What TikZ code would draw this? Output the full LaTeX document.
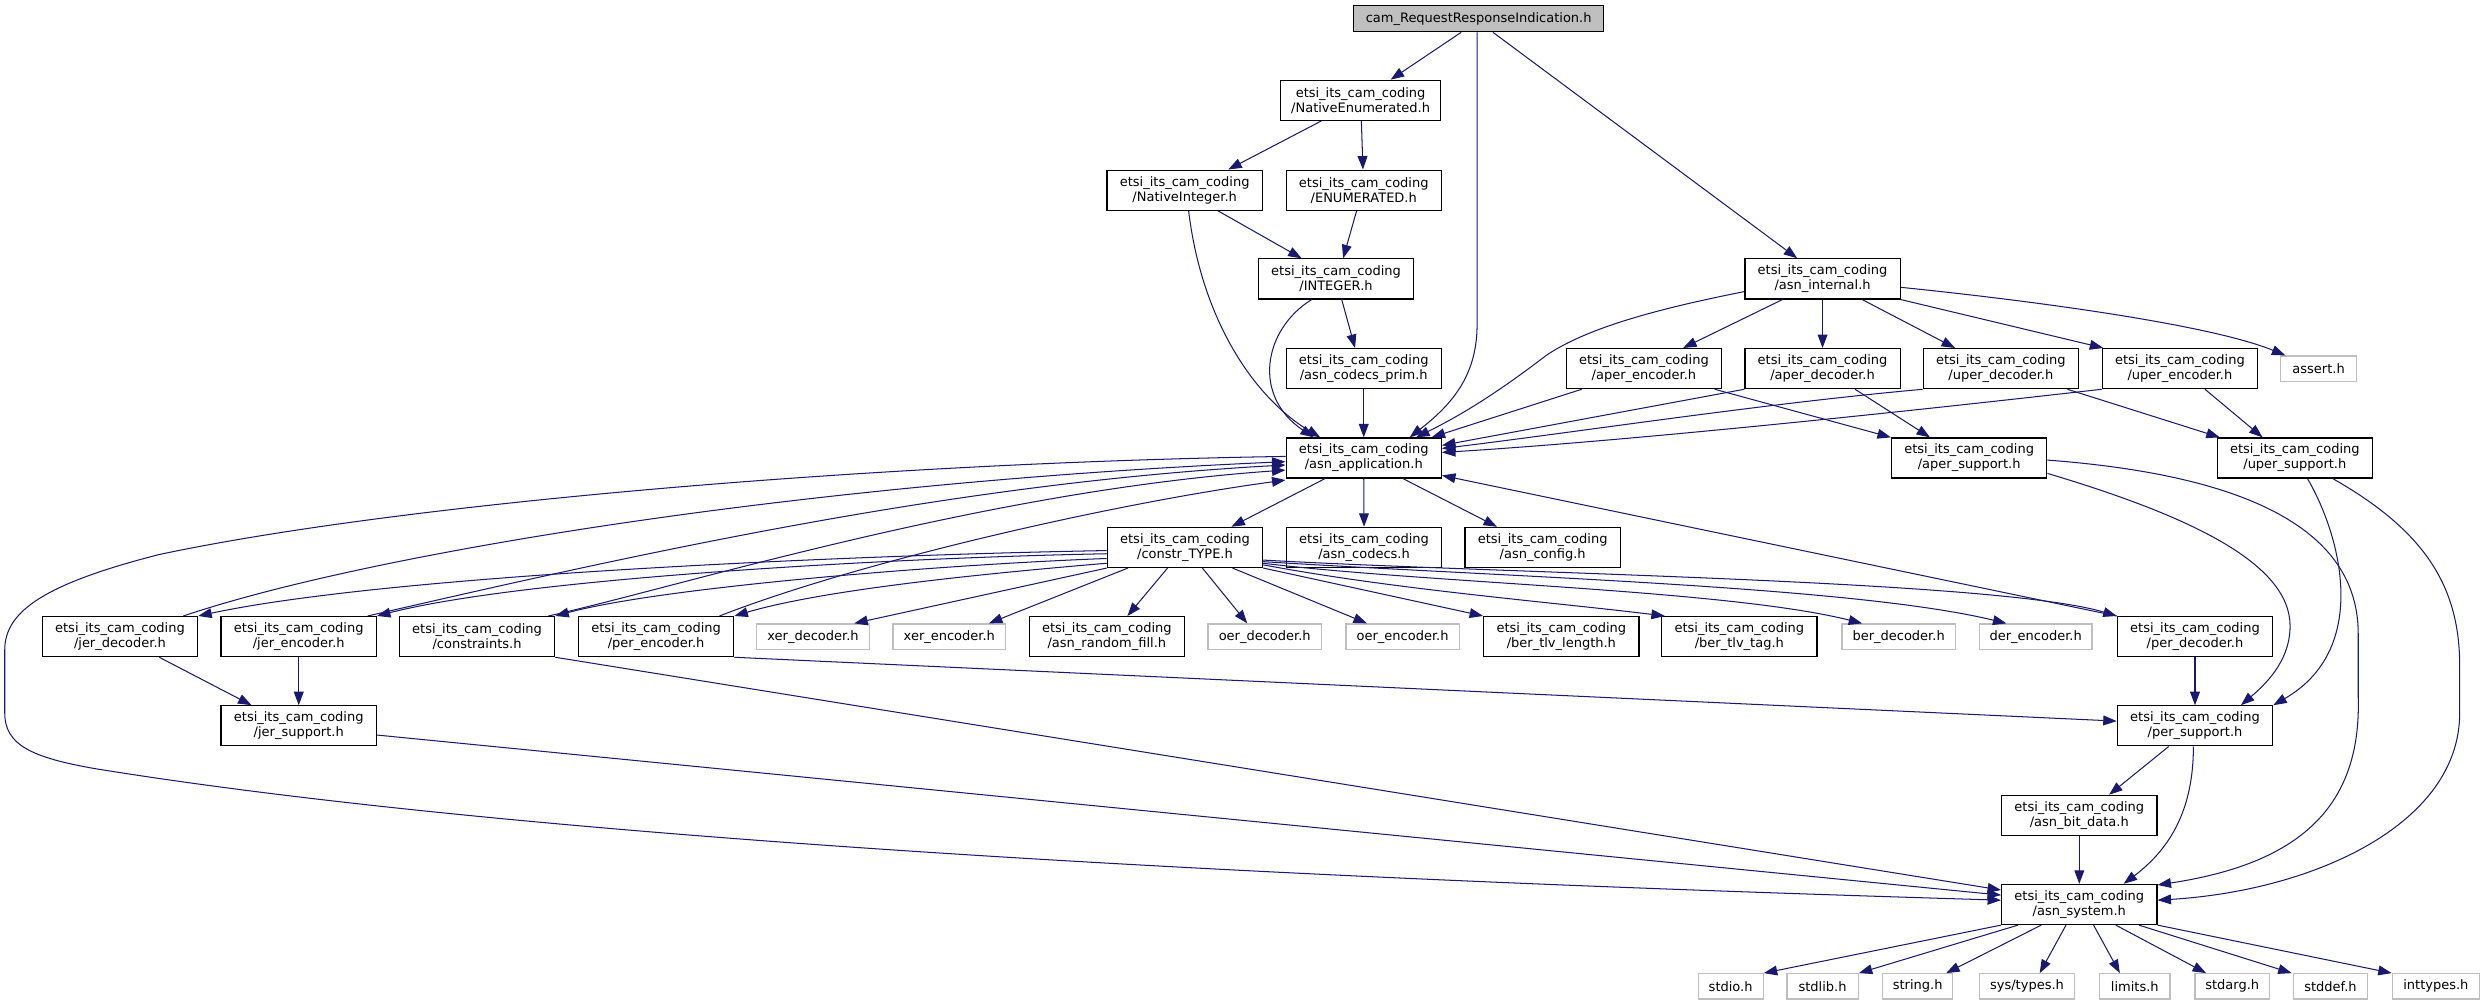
\documentclass[tikz,border=0pt]{standalone}
\usepackage{fontspec}
\setmainfont{DejaVu Sans}
\usetikzlibrary{arrows.meta}
\definecolor{edgec}{HTML}{191970}
\definecolor{gbord}{HTML}{BFBFBF}
\definecolor{topfill}{HTML}{BFBFBF}
\newcommand\nodefont{\fontsize{8.2}{9.46}\selectfont}
\begin{document}
\begin{tikzpicture}[x=1pt,y=-1pt,
 box/.style={draw=black,line width=0.75pt,fill=white,minimum width=98pt,minimum height=25.3pt,inner sep=0pt,align=center,font=\nodefont},
 gbox/.style={draw=gbord,line width=0.75pt,fill=white,minimum width=#1,minimum height=16pt,inner sep=0pt,font=\nodefont},
 e/.style={draw=edgec,line width=0.65pt,-{Triangle[length=8.5pt,width=6.2pt]}},
]
\fill[white] (0,0) rectangle (1568,634);
\useasboundingbox (0,0) rectangle (1568,634);
% nodes
\node[box,fill=topfill,minimum width=158pt,minimum height=16.4pt] (top) at (933,11.8) {cam\_RequestResponseIndication.h};
\node[box,minimum width=101pt] (natenum) at (858.5,63.3) {etsi\_its\_cam\_coding\\/NativeEnumerated.h};
\node[box] (natint) at (747.5,120) {etsi\_its\_cam\_coding\\/NativeInteger.h};
\node[box] (enumer) at (860.5,120) {etsi\_its\_cam\_coding\\/ENUMERATED.h};
\node[box] (integer) at (843,176) {etsi\_its\_cam\_coding\\/INTEGER.h};
\node[box] (asnint) at (1150,176) {etsi\_its\_cam\_coding\\/asn\_internal.h};
\node[box] (prim) at (860.5,232.6) {etsi\_its\_cam\_coding\\/asn\_codecs\_prim.h};
\node[box] (aperenc) at (1037.3,232.6) {etsi\_its\_cam\_coding\\/aper\_encoder.h};
\node[box] (aperdec) at (1150,232.6) {etsi\_its\_cam\_coding\\/aper\_decoder.h};
\node[box] (uperdec) at (1262.5,232.6) {etsi\_its\_cam\_coding\\/uper\_decoder.h};
\node[box] (uperenc) at (1375.5,232.6) {etsi\_its\_cam\_coding\\/uper\_encoder.h};
\node[gbox=48pt] (assert) at (1463,232.6) {assert.h};
\node[box] (app) at (860.5,289) {etsi\_its\_cam\_coding\\/asn\_application.h};
\node[box] (apersup) at (1242.5,289) {etsi\_its\_cam\_coding\\/aper\_support.h};
\node[box] (upersup) at (1448,289) {etsi\_its\_cam\_coding\\/uper\_support.h};
\node[box] (constr) at (747.7,345.4) {etsi\_its\_cam\_coding\\/constr\_TYPE.h};
\node[box] (codecs) at (860.7,345.4) {etsi\_its\_cam\_coding\\/asn\_codecs.h};
\node[box] (config) at (973.4,345.4) {etsi\_its\_cam\_coding\\/asn\_config.h};
\node[box] (jerdec) at (75.7,401.7) {etsi\_its\_cam\_coding\\/jer\_decoder.h};
\node[box] (jerenc) at (188.5,401.7) {etsi\_its\_cam\_coding\\/jer\_encoder.h};
\node[box] (constraints) at (301,401.7) {etsi\_its\_cam\_coding\\/constraints.h};
\node[box] (perenc) at (414,401.7) {etsi\_its\_cam\_coding\\/per\_encoder.h};
\node[gbox=71pt] (xerdec) at (513,401.7) {xer\_decoder.h};
\node[gbox=71pt] (xerenc) at (599,401.7) {xer\_encoder.h};
\node[box] (rand) at (698.4,401.7) {etsi\_its\_cam\_coding\\/asn\_random\_fill.h};
\node[gbox=71.5pt] (oerdec) at (798,401.7) {oer\_decoder.h};
\node[gbox=71.5pt] (oerenc) at (885,401.7) {oer\_encoder.h};
\node[box] (tlvlen) at (985.2,401.7) {etsi\_its\_cam\_coding\\/ber\_tlv\_length.h};
\node[box] (tlvtag) at (1097.5,401.7) {etsi\_its\_cam\_coding\\/ber\_tlv\_tag.h};
\node[gbox=71.5pt] (berdec) at (1198,401.7) {ber\_decoder.h};
\node[gbox=71pt] (derenc) at (1284.5,401.7) {der\_encoder.h};
\node[box] (perdec) at (1385,401.7) {etsi\_its\_cam\_coding\\/per\_decoder.h};
\node[box] (jersup) at (188.5,458) {etsi\_its\_cam\_coding\\/jer\_support.h};
\node[box] (persup) at (1385,458) {etsi\_its\_cam\_coding\\/per\_support.h};
\node[box] (bitdata) at (1312,514.5) {etsi\_its\_cam\_coding\\/asn\_bit\_data.h};
\node[box] (system) at (1312,570.7) {etsi\_its\_cam\_coding\\/asn\_system.h};
\node[gbox=41pt] (stdio) at (1092,622.4) {stdio.h};
\node[gbox=45pt] (stdlib) at (1150,622.4) {stdlib.h};
\node[gbox=44pt] (string) at (1210,622.4) {string.h};
\node[gbox=60.4pt] (systypes) at (1279,622.4) {sys/types.h};
\node[gbox=44.4pt] (limits) at (1347,622.4) {limits.h};
\node[gbox=47pt] (stdarg) at (1408.5,622.4) {stdarg.h};
\node[gbox=47pt] (stddef) at (1470.5,622.4) {stddef.h};
\node[gbox=55pt] (inttypes) at (1537,622.4) {inttypes.h};
% edges
\draw[e] ([xshift=-11pt]top.south) -- ([xshift=19pt]natenum.north);
\draw[e] ([xshift=-1pt]top.south) -- (932,205) .. controls (932,238) and (915,256) .. ([xshift=29pt]app.north);
\draw[e] ([xshift=9pt]top.south) -- ([xshift=-16pt]asnint.north);
\draw[e] ([xshift=-24.8pt]natenum.south) -- ([xshift=27.5pt]natint.north);
\draw[e] ([xshift=0.5pt]natenum.south) -- ([xshift=-0.5pt]enumer.north);
\draw[e] ([xshift=21pt]natint.south) -- ([xshift=-21.7pt]integer.north);
\draw[e] ([xshift=2.5pt]natint.south) .. controls (758,200) and (790,250) .. ([xshift=-27.5pt]app.north);
\draw[e] ([xshift=-4.5pt]enumer.south) -- ([xshift=4.5pt]integer.north);
\draw[e] ([xshift=3.6pt]integer.south) -- ([xshift=-5.5pt]prim.north);
\draw[e] ([xshift=-15.4pt]integer.south) .. controls (797,208) and (790,250) .. ([xshift=-31.5pt]app.north);
\draw[e] (prim.south) -- (app.north);
\draw[e] ([yshift=-8pt]asnint.west) .. controls (1040,196) and (1000,208) .. (976,224) .. controls (955,240) and (930,258) .. ([xshift=33pt]app.north);
\draw[e] ([xshift=-25.3pt]asnint.south) -- ([xshift=24.7pt]aperenc.north);
\draw[e] (asnint.south) -- (aperdec.north);
\draw[e] ([xshift=25pt]asnint.south) -- ([xshift=-28.9pt]uperdec.north);
\draw[e] (asnint.south east) -- ([xshift=1pt]uperenc.north west);
\draw[e] ([yshift=-5.3pt]asnint.east) .. controls (1285,190) and (1395,205) .. ([xshift=-21pt]assert.north);
\draw[e] ([xshift=-39.3pt]aperenc.south) -- ([xshift=42.8pt]app.north);
\draw[e] ([xshift=44.7pt]aperenc.south) -- (apersup.north west);
\draw[e] (aperdec.south west) -- ([yshift=8pt]app.east);
\draw[e] ([xshift=20.5pt]aperdec.south) -- ([xshift=-24.7pt]apersup.north);
\draw[e] (uperdec.south west) .. controls (1110,255) and (1000,272) .. ([yshift=6pt]app.east);
\draw[e] ([xshift=42pt]uperdec.south) -- ([xshift=2pt]upersup.north west);
\draw[e] (uperenc.south west) .. controls (1200,260) and (1030,278) .. ([yshift=3.5pt]app.east);
\draw[e] ([xshift=15.8pt]uperenc.south) -- ([xshift=-20.4pt]upersup.north);
\draw[e] ([yshift=-9.7pt]apersup.east) .. controls (1380,325) and (1445,355) .. (1445,395) .. controls (1445,418) and (1428,433) .. ([xshift=29pt]persup.north);
\draw[e] ([yshift=-1.3pt]apersup.east) .. controls (1420,300) and (1488,335) .. (1488,400) -- (1488,440) .. controls (1490,510) and (1450,545) .. ([yshift=12.3pt]system.east);
\draw[e] ([xshift=8pt]upersup.south) .. controls (1478,340) and (1495,410) .. (persup.north east);
\draw[e] ([xshift=24pt]upersup.south) .. controls (1530,335) and (1552,370) .. (1552,420) -- (1552,450) .. controls (1552,520) and (1460,562) .. ([yshift=2.7pt]system.east);
\draw[e] ([xshift=-16.6pt]persup.south) -- ([xshift=18.8pt]bitdata.north);
\draw[e] ([xshift=-1pt]persup.south) .. controls (1384,510) and (1370,535) .. ([xshift=28pt]system.north);
\draw[e] (bitdata.south) -- (system.north);
\draw[e] (perdec.south) -- (persup.north);
\draw[e] (perdec.north west) -- ([yshift=-11pt]app.east);
\draw[e] (perenc.south east) -- ([yshift=3pt]persup.west);
\draw[e] ([xshift=40pt]perenc.north) .. controls (540,355) and (700,318) .. ([yshift=-13.9pt]app.west);
\draw[e] ([xshift=45pt]constraints.north) .. controls (430,370) and (620,310) .. ([yshift=-7.6pt]app.west);
\draw[e] (constraints.south east) -- ([yshift=9.1pt]system.west);
\draw[e] ([yshift=-5.8pt]jersup.east) -- ([yshift=5.9pt]system.west);
\draw[e] ([yshift=1pt]app.west) .. controls (550,292) and (250,318) .. (100,350) .. controls (30,368) and (3,385) .. (3,410) -- (3,450) .. controls (3,470) and (20,478) .. (60,485) .. controls (400,540) and (1000,560) .. ([yshift=2.7pt]system.west);
\draw[e] ([xshift=-24.5pt]app.south) -- ([xshift=29.3pt]constr.north);
\draw[e] (app.south) -- (codecs.north);
\draw[e] ([xshift=24.8pt]app.south) -- ([xshift=-28.8pt]config.north);
\draw[e] ([xshift=40pt]jerdec.north) .. controls (230,350) and (500,305) .. ([yshift=-2.3pt]app.west);
\draw[e] ([xshift=43.5pt]jerenc.north) .. controls (400,350) and (600,305) .. ([yshift=-4.4pt]app.west);
\draw[e] ([xshift=24.8pt]jerdec.south) -- ([xshift=-29.8pt]jersup.north);
\draw[e] (jerenc.south) -- (jersup.north);
\draw[e] ([yshift=-2pt]constr.west) .. controls (550,350) and (250,362) .. (jerdec.north east);
\draw[e] ([yshift=-4pt]constr.west) .. controls (560,352) and (330,365) .. (jerenc.north east);
\draw[e] ([yshift=-7pt]constr.west) .. controls (600,356) and (420,370) .. (constraints.north east);
\draw[e] ([yshift=-10pt]constr.west) .. controls (620,362) and (520,372) .. (perenc.north east);
\draw[e] (constr.south west) -- ([xshift=26pt]xerdec.north);
\draw[e] ([xshift=-36pt]constr.south) -- ([xshift=25pt]xerenc.north);
\draw[e] ([xshift=-11pt]constr.south) -- ([xshift=13pt]rand.north);
\draw[e] ([xshift=11pt]constr.south) -- ([xshift=-11pt]oerdec.north);
\draw[e] ([xshift=30pt]constr.south) -- ([xshift=-22.5pt]oerenc.north);
\draw[e] (constr.south east) -- (tlvlen.north west);
\draw[e] ([yshift=-11pt]constr.east) .. controls (880,372) and (980,380) .. ([xshift=-47pt]tlvtag.north);
\draw[e] ([yshift=-10pt]constr.east) .. controls (900,368) and (1090,372) .. ([xshift=-23pt]berdec.north);
\draw[e] ([yshift=-9pt]constr.east) .. controls (950,364) and (1170,370) .. ([xshift=-18.5pt]derenc.north);
\draw[e] ([yshift=-8pt]constr.east) .. controls (950,362) and (1260,366) .. (perdec.north west);
\draw[e] (system.south west) -- (stdio.north east);
\draw[e] ([xshift=-38.7pt]system.south) -- (stdlib.north east);
\draw[e] ([xshift=-24pt]system.south) -- ([xshift=18pt]string.north);
\draw[e] ([xshift=-8.4pt]system.south) -- ([xshift=8pt]systypes.north);
\draw[e] ([xshift=9pt]system.south) -- ([xshift=-9.4pt]limits.north);
\draw[e] ([xshift=23pt]system.south) -- ([xshift=-16.5pt]stdarg.north);
\draw[e] ([xshift=37.6pt]system.south) -- ([xshift=-24.5pt]stddef.north);
\draw[e] (system.south east) -- (inttypes.north west);
\end{tikzpicture}
\end{document}
